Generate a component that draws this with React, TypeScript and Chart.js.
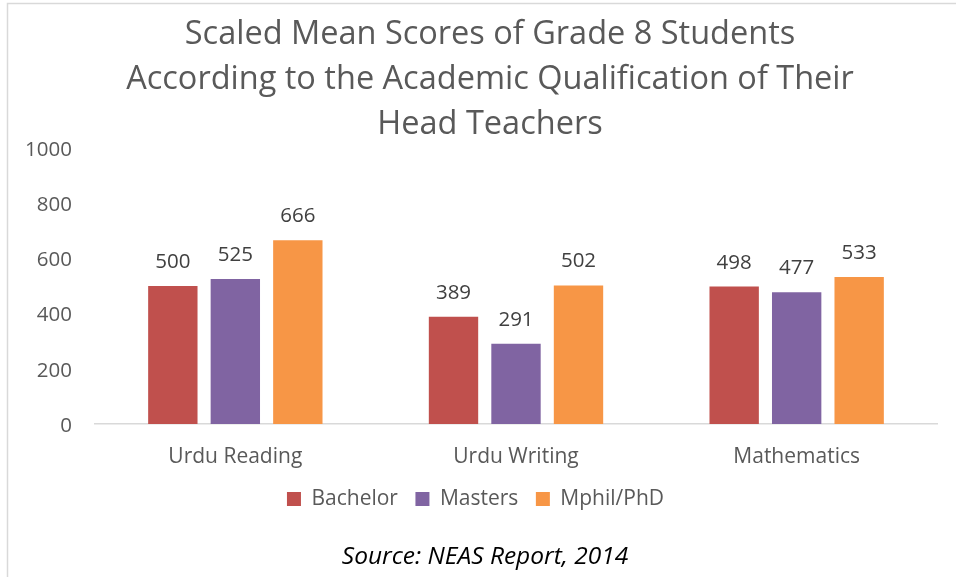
import React, { useEffect, useRef } from "react";
import { Chart, registerables } from "chart.js";

Chart.register(...registerables);

const categories = ["Urdu Reading", "Urdu Writing", "Mathematics"];
const seriesNames = ["Bachelor", "Masters", "Mphil/PhD"];
const bachelorScores = [500, 389, 498];
const mastersScores = [525, 291, 477];
const mphilScores = [666, 502, 533];
const seriesColors = ["#C0504D", "#8064A2", "#F79646"];
const yMin = 0;
const yMax = 1000;
const yStep = 200;
const titleLines = [
  "Scaled Mean Scores of Grade 8 Students",
  "According to the Academic Qualification of Their",
  "Head Teachers",
];
const sourceText = "Source: NEAS Report, 2014";

const FONT = "'Open Sans', Lato, sans-serif";

const frameAndLabels = {
  id: "frameAndLabels",
  afterLayout(chart: any) {
    chart.boxes.forEach((b: any) => {
      let dx = 0;
      let dy = 0;
      if (b === chart.legend) {
        dx = -4;
        dy = 1;
      } else if (b.options && b.options.text === titleLines) dx = 10.5;
      else if (b.options && b.options.text === sourceText) dx = 5.5;
      if (dx || dy) {
        b.left += dx;
        b.right += dx;
        b.top += dy;
        b.bottom += dy;
      }
    });
  },
  beforeDraw(chart: any) {
    const ctx = chart.ctx;
    ctx.save();
    ctx.fillStyle = "#ffffff";
    ctx.fillRect(0, 0, chart.width, chart.height);
    ctx.strokeStyle = "#d9d9d9";
    ctx.lineWidth = 1.5;
    ctx.beginPath();
    ctx.moveTo(7.5, chart.height);
    ctx.lineTo(7.5, 3.5);
    ctx.lineTo(chart.width, 3.5);
    ctx.stroke();
    ctx.restore();
  },
  afterDatasetsDraw(chart: any) {
    const ctx = chart.ctx;
    ctx.save();
    ctx.font = `20.5px ${FONT}`;
    ctx.fillStyle = "#404040";
    ctx.textAlign = "center";
    ctx.textBaseline = "alphabetic";
    chart.data.datasets.forEach((ds: any, di: number) => {
      const meta = chart.getDatasetMeta(di);
      meta.data.forEach((bar: any, i: number) => {
        ctx.fillText(String(ds.data[i]), bar.x, bar.y - 18);
      });
    });
    ctx.restore();
  },
};

export default function App() {
  const ref = useRef<HTMLCanvasElement | null>(null);

  useEffect(() => {
    if (!ref.current) return;
    const series = [bachelorScores, mastersScores, mphilScores];
    const chart = new Chart(ref.current, {
      type: "bar",
      data: {
        labels: categories,
        datasets: series.map((data, i) => ({
          label: seriesNames[i],
          data,
          backgroundColor: seriesColors[i],
          borderWidth: 0,
          categoryPercentage: 0.668,
          barPercentage: 0.79,
        })),
      },
      options: {
        responsive: false,
        animation: false,
        layout: { padding: { left: 22, right: 19, top: 0, bottom: 0 } },
        scales: {
          x: {
            grid: { display: false, drawTicks: false },
            border: { display: true, color: "#d9d9d9", width: 1.5 },
            ticks: { color: "#595959", font: { family: FONT, size: 21 }, padding: 20.4 },
            afterFit: (s: any) => {
              s.height = 46;
            },
          },
          y: {
            min: yMin,
            max: yMax,
            grid: { display: false, drawTicks: false },
            border: { display: false },
            ticks: {
              stepSize: yStep,
              color: "#595959",
              font: { family: FONT, size: 20.5 },
              padding: 23,
              labelOffset: 2,
              callback: (v: any) => String(v),
            },
            afterFit: (s: any) => {
              s.width = 73;
            },
          },
        },
        plugins: {
          title: {
            display: true,
            text: titleLines,
            color: "#595959",
            font: { family: FONT, size: 32.5, weight: "normal", lineHeight: 45 / 32.5 },
            padding: { top: 12.2, bottom: 0.8 },
          },
          legend: {
            position: "bottom",
            labels: {
              boxWidth: 14,
              boxHeight: 14,
              padding: 17.5,
              color: "#595959",
              font: { family: FONT, size: 21 },
            },
          },
          subtitle: {
            display: true,
            position: "bottom",
            text: sourceText,
            color: "#000000",
            font: { family: FONT, size: 24.5, style: "italic", weight: "normal", lineHeight: 1.2 },
            padding: { top: 23.6, bottom: 5.5 },
          },
          tooltip: { enabled: false },
        },
      },
      plugins: [frameAndLabels],
    });
    return () => chart.destroy();
  }, []);

  return (
    <div style={{ position: "fixed", left: 0, top: 0, width: 956, height: 577, background: "#fff" }}>
      <canvas ref={ref} width={956} height={577} style={{ display: "block" }} />
    </div>
  );
}
